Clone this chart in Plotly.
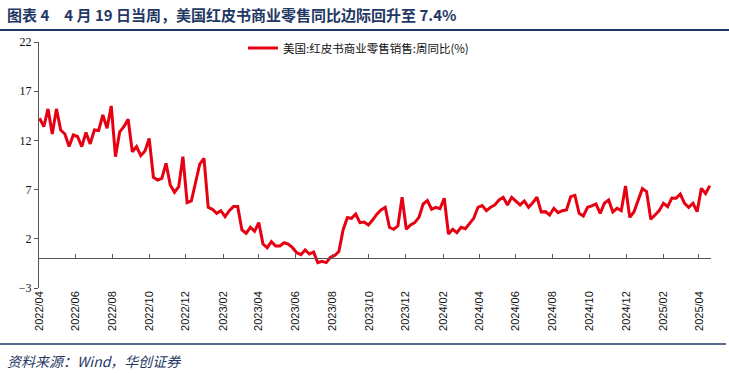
import pandas as pd
import plotly.graph_objects as go

# Weekly dates (Saturdays) from 2022-04-02 to 2025-04-19
dates = pd.date_range("2022-04-02", periods=160, freq="7D")

values = [
    14.25, 13.4, 15.2, 12.65, 15.2, 13.06, 12.65, 11.37, 12.55, 12.4,
    11.37, 12.8, 11.64, 13.06, 13.0, 14.58, 13.23, 15.5, 10.35, 12.86,
    13.4, 14.15, 10.85, 11.37, 10.45, 10.92, 12.2, 8.25, 7.98, 8.15,
    9.67, 7.47, 6.73, 7.3, 10.35, 5.67, 5.84, 7.64, 9.6, 10.18,
    5.2, 5.0, 4.59, 4.86, 4.25, 4.86, 5.27, 5.27, 2.9, 2.56,
    3.17, 2.76, 3.64, 1.47, 1.1, 1.71, 1.27, 1.27, 1.6, 1.47,
    1.1, 0.59, 0.39, 0.86, 0.45, 0.66, -0.42, -0.3, -0.42, 0.12,
    0.3, 0.7, 2.9, 4.15, 4.08, 4.52, 3.64, 3.7, 3.4, 3.9,
    4.5, 4.93, 5.2, 3.17, 2.97, 3.3, 6.22, 2.97, 3.4, 3.64,
    4.18, 5.54, 5.88, 5.0, 5.2, 5.07, 6.12, 2.49, 2.97, 2.63,
    3.17, 3.03, 3.5, 4.08, 5.2, 5.37, 4.86, 5.2, 5.44, 5.95,
    6.22, 5.44, 6.22, 5.78, 5.44, 5.84, 5.2, 5.67, 6.22, 4.73,
    4.76, 4.42, 5.1, 4.66, 4.86, 4.93, 6.28, 6.42, 4.59, 4.32,
    5.2, 5.34, 5.54, 4.59, 5.61, 5.95, 4.73, 5.1, 4.86, 7.37,
    4.18, 4.73, 5.95, 7.1, 6.8, 3.98, 4.42, 4.86, 5.61, 5.27,
    6.15, 6.12, 6.55, 5.61, 5.2, 5.61, 4.76, 7.13, 6.6, 7.4,
]

series_name = "美国:红皮书商业零售销售:周同比(%)"
title_text = "图表 4　4 月 19 日当周，美国红皮书商业零售同比边际回升至 7.4%"
source_text = "资料来源：Wind，华创证券"

x_ticks = pd.date_range("2022-04-01", "2025-04-01", freq="2MS")
y_ticks = [-3, 2, 7, 12, 17, 22]

NAVY = "#1F3864"
RED = "#E60012"

W, H = 729, 373
ML, MR, MT, MB = 39, 18, 42, 85
pw = W - ML - MR
ph = H - MT - MB

def px_x(px):
    return (px - ML) / pw

def px_y(py):
    return (H - MB - py) / ph

fig = go.Figure()
fig.add_trace(go.Scatter(
    x=dates, y=values, mode="lines", name=series_name,
    line=dict(color=RED, width=3),
))

xrange = ["2022-04-01", "2025-04-21"]

fig.update_layout(
    width=W, height=H,
    margin=dict(l=ML, r=MR, t=MT, b=MB),
    paper_bgcolor="white", plot_bgcolor="white",
    showlegend=True,
    legend=dict(
        x=px_x(243), y=px_y(48), xanchor="left", yanchor="middle",
        font=dict(family="Noto Sans CJK SC", size=11.5, color="#111"),
        bgcolor="rgba(0,0,0,0)",
    ),
    xaxis=dict(
        type="date", range=xrange, tickvals=x_ticks, tickformat="%Y/%m",
        tickangle=-90, showgrid=False, zeroline=False, showline=False,
        ticks="", tickfont=dict(family="Liberation Sans", size=11, color="#111"),
    ),
    xaxis2=dict(
        type="date", range=xrange, tickvals=x_ticks, overlaying="x",
        anchor="free", position=3 / 25, side="bottom",
        showline=True, linecolor="#555", linewidth=1,
        ticks="inside", ticklen=4, tickcolor="#555",
        showticklabels=False, showgrid=False, zeroline=False,
    ),
    yaxis=dict(
        range=[-3, 22], tickvals=y_ticks, showgrid=False, zeroline=False,
        showline=True, linecolor="#555", linewidth=1,
        ticks="outside", ticklen=4, tickcolor="#555",
        tickfont=dict(family="Liberation Serif", size=12, color="#111"),
    ),
)

# empty trace so xaxis2 is drawn
fig.add_trace(go.Scatter(x=[dates[0]], y=[None], xaxis="x2", yaxis="y",
                         showlegend=False, hoverinfo="skip", mode="lines"))

# title as annotation
fig.add_annotation(
    text="<b>" + title_text + "</b>", xref="paper", yref="paper",
    x=px_x(5), y=px_y(15), xanchor="left", yanchor="middle", showarrow=False,
    font=dict(family="Noto Sans CJK SC", size=15, color=NAVY),
)

# rule under the title: shape plus a filled annotation box as fallback
fig.add_shape(type="line", xref="paper", yref="paper",
              x0=px_x(0), x1=px_x(729), y0=px_y(30), y1=px_y(30),
              line=dict(color=NAVY, width=2))
fig.add_annotation(
    text=" ", xref="paper", yref="paper", showarrow=False,
    x=px_x(0), y=px_y(30.5), xanchor="left", yanchor="middle",
    width=729, height=1, bgcolor=NAVY, borderpad=0, borderwidth=0,
    font=dict(size=1, color=NAVY),
)
# rule above the source
fig.add_shape(type="line", xref="paper", yref="paper",
              x0=px_x(0), x1=px_x(726), y0=px_y(344), y1=px_y(344),
              line=dict(color=NAVY, width=1.5))

fig.add_annotation(
    text="<i>" + source_text + "</i>", xref="paper", yref="paper",
    x=px_x(5), y=px_y(361), xanchor="left", yanchor="middle", showarrow=False,
    font=dict(family="Noto Sans CJK SC", size=14, color=NAVY),
)

fig.write_html(
    "out.html",
    config={"displayModeBar": False},
    post_script="document.body.style.margin='0';document.body.style.overflow='hidden';",
)
